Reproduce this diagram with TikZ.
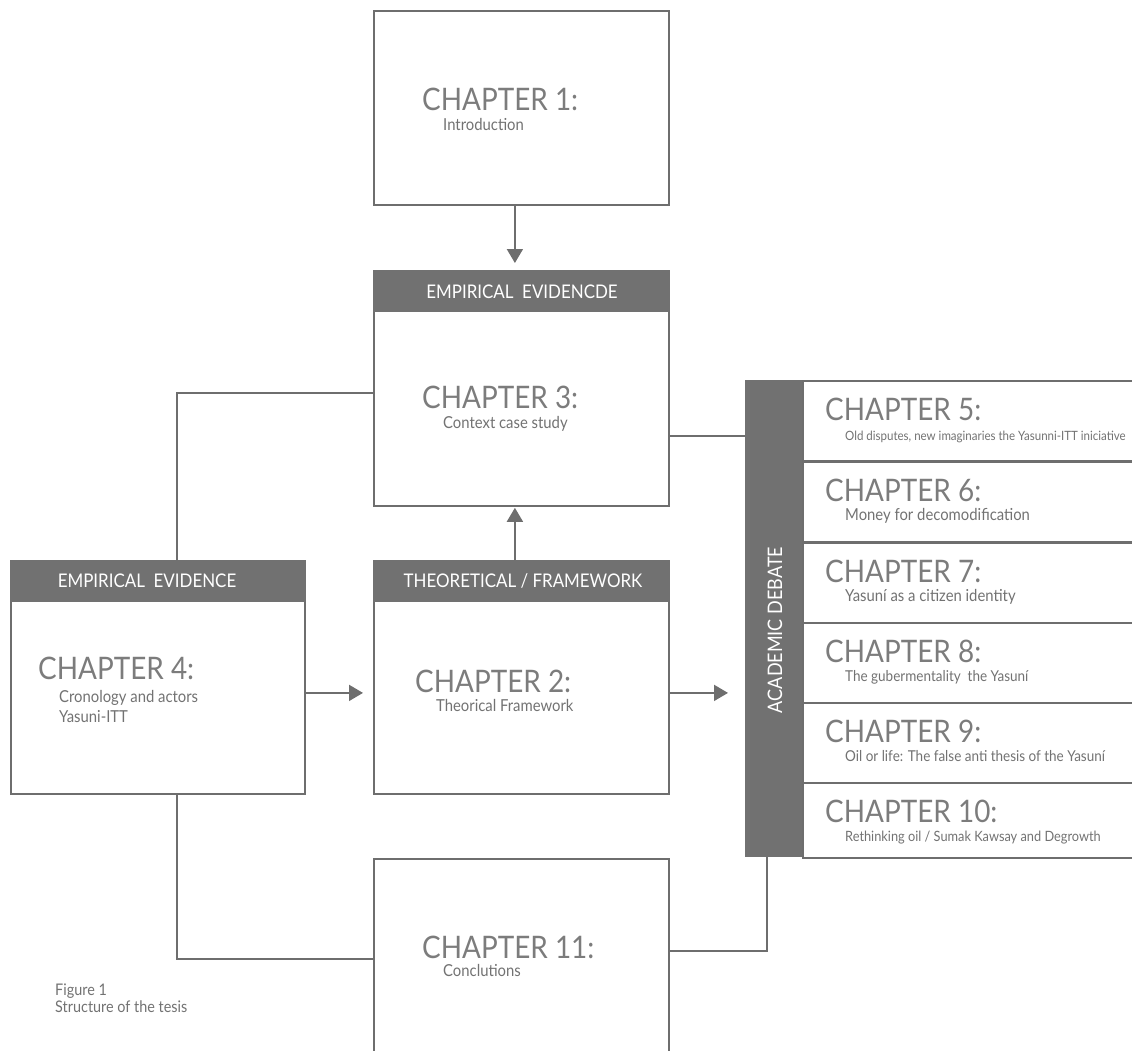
\documentclass[tikz,border=0pt]{standalone}
\usepackage{fontspec}
\setmainfont{Lato}[FakeStretch=0.9]
\usepackage{xcolor}
\usepackage{tikz}
\usetikzlibrary{positioning, arrows.meta}

\definecolor{framegray}{HTML}{6E6E6E}
\definecolor{bargray}{HTML}{717171}
\definecolor{titlegray}{HTML}{7C7C7C}
\definecolor{subgray}{HTML}{727272}

\begin{document}
\begin{tikzpicture}[x=1pt,y=-1pt]
	\tikzstyle{chapbox}=[draw=framegray, line width=1.8pt, anchor=north west, inner sep=0pt, minimum width=295pt]
	\tikzstyle{rowbox}=[draw=framegray, line width=1.8pt, anchor=north west, inner sep=0pt, minimum width=340pt, minimum height=80pt]
	\tikzstyle{headbar}=[fill=bargray, anchor=north west, inner sep=0pt, minimum width=296.8pt, minimum height=42pt]
	\tikzstyle{headtext}=[anchor=base, inner sep=0pt, text=white, font=\fontsize{18.8}{20}\selectfont]
	\tikzstyle{chaptitle}=[anchor=base west, inner sep=0pt, text=titlegray, font=\fontsize{31}{33}\selectfont]
	\tikzstyle{chapsub}=[anchor=base west, inner sep=0pt, text=subgray, font=\fontsize{16.5}{18}\selectfont]
	\tikzstyle{arr}=[draw=framegray, line width=1.8pt, -{Triangle[length=14pt,width=16pt]}]
	\tikzstyle{link}=[draw=framegray, line width=1.8pt]
	\useasboundingbox (0,0) rectangle (1132,1050);

	\node[chapbox, minimum height=194pt] (ch1) at (373,10) {};
	\node[chapbox, minimum height=235pt] (ch3) at (373,270) {};
	\node[chapbox, minimum height=233pt] (ch2) at (373,560) {};
	\node[chapbox, minimum height=233pt, minimum width=294pt] (ch4) at (10,560) {};
	\node[chapbox, minimum height=200pt] (ch11) at (373,858) {};

	\node[headbar] (h3) at (ch3.north west) {};
	\node[headbar] (h2) at (ch2.north west) {};
	\node[headbar, minimum width=295.8pt] (h4) at (ch4.north west) {};
	\node[headtext] (h3t) at (522,298) {EMPIRICAL\ \ EVIDENCDE};
	\node[headtext] (h2t) at (523,587) {THEORETICAL / FRAMEWORK};
	\node[headtext] (h4t) at (147,587) {EMPIRICAL\ \ EVIDENCE};

	\node[fill=bargray, anchor=north west, inner sep=0pt, minimum width=57pt, minimum height=477pt] (debate) at (745,380) {};
	\node[headtext, anchor=center, rotate=90, font=\fontsize{20}{22}\selectfont] (debatet) at (775,630) {ACADEMIC DEBATE};

	\node[rowbox] (r5) at (802,380) {};
	\node[rowbox] (r6) at (802,461) {};
	\node[rowbox] (r7) at (802,542) {};
	\node[rowbox] (r8) at (802,622) {};
	\node[rowbox] (r9) at (802,702) {};
	\node[rowbox, minimum height=75pt] (r10) at (802,782) {};

	\node[chaptitle] (t1) at (422,110) {CHAPTER 1:};
	\node[chapsub] (s1) at (443,130) {Introduction};
	\node[chaptitle] (t3) at (422,408) {CHAPTER 3:};
	\node[chapsub] (s3) at (443,428) {Context case study};
	\node[chaptitle] (t2) at (415,692) {CHAPTER 2:};
	\node[chapsub] (s2) at (436,711) {Theorical Framework};
	\node[chaptitle] (t4) at (38,679) {CHAPTER 4:};
	\node[chapsub] (s4) at (59,702) {Cronology and actors};
	\node[chapsub] (s4b) at (59,722) {Yasuni-ITT};
	\node[chaptitle] (t11) at (422,958) {CHAPTER 11:};
	\node[chapsub] (s11) at (443,976) {Conclutions};

	\node[chaptitle] (t5) at (825,420) {CHAPTER 5:};
	\node[chapsub, font=\fontsize{12.8}{14}\selectfont] (s5) at (845,440) {Old disputes, new imaginaries the Yasunni-ITT iniciative};
	\node[chaptitle] (t6) at (825,501) {CHAPTER 6:};
	\node[chapsub] (s6) at (845,520) {Money for decomodification};
	\node[chaptitle] (t7) at (825,582) {CHAPTER 7:};
	\node[chapsub] (s7) at (845,601) {Yasuní as a citizen identity};
	\node[chaptitle] (t8) at (825,662) {CHAPTER 8:};
	\node[chapsub, font=\fontsize{15}{17}\selectfont] (s8) at (845,681) {The gubermentality\ \ the Yasuní};
	\node[chaptitle] (t9) at (825,742) {CHAPTER 9:};
	\node[chapsub, font=\fontsize{15}{17}\selectfont] (s9) at (845,761) {Oil or life: The false anti thesis of the Yasuní};
	\node[chaptitle] (t10) at (825,822) {CHAPTER 10:};
	\node[chapsub, font=\fontsize{14.2}{16}\selectfont] (s10) at (845,841) {Rethinking oil / Sumak Kawsay and Degrowth};

	\node[chapsub, font=\fontsize{16}{17}\selectfont, align=left, anchor=north west] (fig) at (55,984) {Figure 1\\Structure of the tesis};

	\draw[arr, shorten >=7pt] ([xshift=-6.5pt]ch1.south) -- ([xshift=-6.5pt]ch3.north);
	\draw[arr, shorten >=1pt] ([xshift=-6.5pt]ch2.north) -- ([xshift=-6.5pt]ch3.south);
	\draw[arr, shorten >=10pt] ([yshift=-15.5pt]ch4.east) -- ([yshift=-15.5pt]ch2.west);
	\coordinate (a2) at ([yshift=-15.5pt]ch2.east);
	\draw[arr, shorten >=17pt] (a2) -- (a2 -| debate.west);
	\draw[link] ([xshift=19pt]ch4.north) |- ([yshift=-4.5pt]ch3.west);
	\coordinate (b3) at ([yshift=-47.5pt]ch3.east);
	\draw[link] (b3) -- (b3 -| debate.west);
	\draw[link] ([xshift=19pt]ch4.south) |- (ch11.west);
	\draw[link] ([yshift=8pt]ch11.east) -| ([xshift=-6.5pt]debate.south);
\end{tikzpicture}
\end{document}
